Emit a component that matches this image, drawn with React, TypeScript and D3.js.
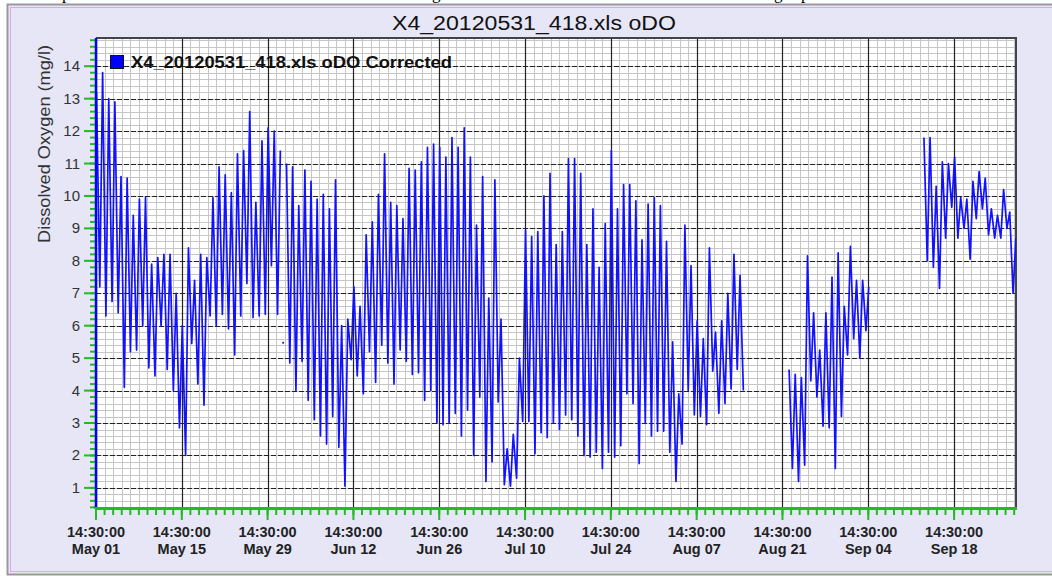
import React, { useRef, useEffect } from "react";
import * as d3 from "d3";

// daily afternoon maxima and early-morning minima of dissolved oxygen (mg/l),
// day 0 = May 01 14:30, null = no data logged
const dayMax: (number | null)[] = [
  13.2, 13.8, 13.0, 12.9, 10.6, 10.55, 9.4, 9.9, 9.95, 7.9,
  8.1, 8.2, 8.2, 7.0, 6.0, 8.4, 7.4, 8.2, 8.1, 9.95,
  10.9, 10.65, 10.1, 11.3, 11.4, 12.6, 9.8, 11.7, 12.1, 12.0,
  11.4, 11.0, 10.9, 9.7, 10.8, 10.45, 9.9, 10.05, 9.6, 10.5,
  6.0, 6.2, 7.2, 6.6, 8.8, 9.2, 10.05, 11.3, 9.8, 9.7,
  9.3, 10.85, 10.8, 11.05, 11.5, 11.6, 11.5, 11.2, 11.8, 11.5,
  12.1, 11.2, 9.1, 10.6, 6.85, 10.5, 6.2, 2.2, 2.65, 5.0,
  8.95, 8.75, 8.9, 10.0, 10.7, 8.5, 8.9, 11.15, 11.15, 10.7,
  8.5, 9.6, 7.8, 9.15, 11.4, 9.6, 10.35, 10.35, 9.85, 8.65,
  9.75, 9.95, 9.7, 8.6, 5.5, 3.9, 9.1, 7.85, 6.15, 5.6,
  8.4, 5.8, 6.15, 7.0, 8.2, 7.55, null, null, null, null,
  null, null, null, 4.65, 4.5, 4.4, 8.15, 6.4, 5.25, 6.4,
  7.5, 8.25, 6.6, 8.45, 7.4, 7.4, 7.2, null, null, null,
  null, null, null, null, null, 11.8, 11.8, 10.3, 11.05, 11.0,
  11.2, 9.95, 9.9, 10.45, 10.75, 10.55, 9.6, 9.4, 10.2, 9.5,
  8.7,
];

const dayMin: (number | null)[] = [
  7.2, 6.3, 6.75, 6.4, 4.1, 5.2, 5.25, 6.0, 4.7, 4.45,
  6.0, 4.65, 4.0, 2.85, 2.0, 5.45, 4.2, 3.55, 6.3, 6.0,
  6.35, 5.9, 5.1, 6.3, 7.3, 6.25, 6.3, 6.35, 7.85, 6.35,
  null, 4.85, 4.0, 4.9, 3.7, 3.1, 2.6, 2.35, 3.2, 2.25,
  1.05, 4.95, 4.45, 3.9, 5.2, 4.25, 5.4, 4.85, 4.2, 5.25,
  4.9, 4.5, 4.55, 3.7, 4.0, 3.0, 2.95, 3.0, 3.3, 2.6,
  3.4, 2.0, 3.8, 1.2, 1.8, 3.65, 1.1, 1.05, 1.3, 3.05,
  3.05, 2.05, 2.7, 2.55, 3.0, 2.8, 3.25, 3.1, 2.6, 2.0,
  1.95, 2.1, 1.6, 2.1, 1.95, 2.3, 3.9, 3.6, 1.75, 3.0,
  2.6, 2.75, 2.75, 2.1, 1.2, 2.35, 4.0, 3.25, 3.2, 2.95,
  4.6, 3.3, 3.6, 4.05, 4.65, 4.0, null, null, null, null,
  null, null, null, 1.6, 1.2, 1.7, 4.3, 3.8, 2.9, 2.85,
  1.6, 3.2, 5.1, 5.6, 5.0, 5.85, null, null, null, null,
  null, null, null, null, null, 8.0, 7.8, 7.15, 8.7, 9.65,
  8.7, 9.0, 8.05, 9.3, 9.6, 8.8, 8.7, 8.7, 9.0, 7.0,
  null,
];

// short isolated reading on May 31 (day offset, value)
const may31Fragment: [number, number][] = [
  [30.45, 5.45],
  [30.6, 5.5],
];

const titleText = "X4_20120531_418.xls oDO";
const legendText = "X4_20120531_418.xls oDO Corrected";
const yLabelText = "Dissolved Oxygen (mg/l)";
const majorTickDays = [0, 14, 28, 42, 56, 70, 84, 98, 112, 126, 140];
const lastDay = 150.1;

const DOChart = () => {
  const svgRef = useRef<SVGSVGElement>(null);

  useEffect(() => {
    const width = 1052;
    const height = 576;
    const plot = { left: 96, right: 1016, top: 38, bottom: 508 };
    const font = "'Liberation Sans', Arial, sans-serif";
    const dayMs = 86400000;
    const start = new Date(2012, 4, 1, 14, 30, 0);
    const toDate = (t: number) => new Date(start.getTime() + t * dayMs);

    const svg = d3.select(svgRef.current);
    svg.selectAll("*").remove();
    svg.attr("width", width).attr("height", height);

    // page + panel
    svg.append("rect").attr("width", width).attr("height", height).attr("fill", "#ffffff");
    const docText = svg.append("g").attr("font-family", "'Liberation Serif', serif").attr("font-size", 17).attr("fill", "#000");
    [[62, "p"], [432, "g"], [774, "g"], [801, "p"]].forEach(([x, s]) => {
      docText.append("text").attr("x", x as number).attr("y", -1).text(s as string);
    });
    svg.append("rect").attr("x", 7.5).attr("y", 4.5).attr("width", width).attr("height", 570)
      .attr("fill", "#e6e6f7").attr("stroke", "#9a9a9a").attr("stroke-width", 2);
    svg.append("rect").attr("x", 10.5).attr("y", 7.5).attr("width", width).attr("height", 564)
      .attr("fill", "none").attr("stroke", "#e7a2ec").attr("stroke-width", 1);

    // scales
    const x = d3.scaleTime().domain([start, toDate(lastDay)]).range([plot.left, plot.right]);
    const y = d3.scaleLinear().domain([0.38, 14.87]).range([plot.bottom, plot.top]);

    const minorDays = d3.range(0, 108).map((k) => k * 1.4).filter((t) => t <= lastDay);
    const minorVals = d3.range(2, 75).map((k) => k / 5);
    const majorVals = d3.range(1, 15);

    // plot area and grid
    svg.append("rect").attr("x", plot.left).attr("y", plot.top)
      .attr("width", plot.right - plot.left).attr("height", plot.bottom - plot.top).attr("fill", "#fff");

    const grid = svg.append("g");
    grid.selectAll(".vminor").data(minorDays).enter().append("line")
      .attr("x1", (d) => Math.round(x(toDate(d))) + 0.5).attr("x2", (d) => Math.round(x(toDate(d))) + 0.5)
      .attr("y1", plot.top).attr("y2", plot.bottom).attr("stroke", "#c6c6c6").attr("stroke-width", 1);
    grid.selectAll(".hminor").data(minorVals).enter().append("line")
      .attr("x1", plot.left).attr("x2", plot.right)
      .attr("y1", (d) => Math.round(y(d)) + 0.5).attr("y2", (d) => Math.round(y(d)) + 0.5)
      .attr("stroke", "#c6c6c6").attr("stroke-width", 1);
    grid.selectAll(".hmajor").data(majorVals).enter().append("line")
      .attr("x1", plot.left).attr("x2", plot.right)
      .attr("y1", (d) => Math.round(y(d)) + 0.5).attr("y2", (d) => Math.round(y(d)) + 0.5)
      .attr("stroke", "#222").attr("stroke-width", 1.2).attr("stroke-dasharray", "5,2");
    grid.selectAll(".vmajor").data(majorTickDays).enter().append("line")
      .attr("x1", (d) => Math.round(x(toDate(d))) + 0.5).attr("x2", (d) => Math.round(x(toDate(d))) + 0.5)
      .attr("y1", plot.top).attr("y2", plot.bottom).attr("stroke", "#222").attr("stroke-width", 1.2);

    // border (top / right)
    svg.append("path")
      .attr("d", `M${plot.left},${plot.top}H${plot.right}V${plot.bottom}`)
      .attr("fill", "none").attr("stroke", "#444").attr("stroke-width", 2);

    // series points: afternoon max then morning min each day
    const points: [number, number | null][] = [];
    dayMax.forEach((v, i) => {
      points.push([i + 0.08, v]);
      points.push([i + 0.62, dayMin[i]]);
      if (i === 30) {
        may31Fragment.forEach((p) => points.push(p));
        points.push([30.9, null]);
      }
    });

    svg.append("clipPath").attr("id", "plotClip").append("rect")
      .attr("x", plot.left).attr("y", plot.top)
      .attr("width", plot.right - plot.left).attr("height", plot.bottom - plot.top);

    const line = d3.line<[number, number | null]>()
      .defined((d) => d[1] != null)
      .x((d) => x(toDate(d[0])))
      .y((d) => y(d[1] as number));

    svg.append("path").datum(points).attr("clip-path", "url(#plotClip)")
      .attr("d", line).attr("fill", "none").attr("stroke", "#1212ff")
      .attr("stroke-width", 1.7).attr("stroke-linejoin", "round");

    // y axis
    const yAxis = svg.append("g");
    yAxis.selectAll(".yminor").data(minorVals).enter().append("line")
      .attr("x1", plot.left - 6).attr("x2", plot.left)
      .attr("y1", (d) => y(d)).attr("y2", (d) => y(d)).attr("stroke", "#22bb22").attr("stroke-width", 2);
    yAxis.selectAll(".ymajor").data(majorVals).enter().append("line")
      .attr("x1", plot.left - 12).attr("x2", plot.left)
      .attr("y1", (d) => y(d)).attr("y2", (d) => y(d)).attr("stroke", "#22bb22").attr("stroke-width", 2);
    yAxis.selectAll(".ylab").data(majorVals).enter().append("text")
      .attr("x", 80).attr("y", (d) => y(d) + 5).attr("text-anchor", "end")
      .attr("font-family", font).attr("font-size", 15).attr("fill", "#333").text((d) => d);
    yAxis.append("line").attr("x1", plot.left).attr("x2", plot.left)
      .attr("y1", plot.top).attr("y2", plot.bottom + 1).attr("stroke", "#0000ff").attr("stroke-width", 2.5);

    // x axis
    const xAxis = svg.append("g");
    xAxis.selectAll(".xminor").data(minorDays).enter().append("line")
      .attr("x1", (d) => x(toDate(d))).attr("x2", (d) => x(toDate(d)))
      .attr("y1", plot.bottom).attr("y2", plot.bottom + 7).attr("stroke", "#22bb22").attr("stroke-width", 2);
    xAxis.selectAll(".xmajor").data(majorTickDays).enter().append("line")
      .attr("x1", (d) => x(toDate(d))).attr("x2", (d) => x(toDate(d)))
      .attr("y1", plot.bottom).attr("y2", plot.bottom + 12).attr("stroke", "#22bb22").attr("stroke-width", 2);
    xAxis.append("line").attr("x1", plot.left - 1).attr("x2", plot.right + 1)
      .attr("y1", plot.bottom + 0.5).attr("y2", plot.bottom + 0.5).attr("stroke", "#22bb22").attr("stroke-width", 3);

    const fmtTime = d3.timeFormat("%H:%M:%S");
    const fmtDay = d3.timeFormat("%b %d");
    const xl = xAxis.selectAll(".xlab").data(majorTickDays).enter().append("text")
      .attr("text-anchor", "middle").attr("font-family", font).attr("font-size", 14.5)
      .attr("font-weight", "bold").attr("fill", "#222");
    xl.append("tspan").attr("x", (d) => x(toDate(d))).attr("y", 537).text((d) => fmtTime(toDate(d)));
    xl.append("tspan").attr("x", (d) => x(toDate(d))).attr("y", 554).text((d) => fmtDay(toDate(d)));

    // title
    svg.append("text").attr("x", 534).attr("y", 29.5).attr("text-anchor", "middle")
      .attr("font-family", font).attr("font-size", 20).attr("fill", "#111")
      .attr("textLength", 284).attr("lengthAdjust", "spacingAndGlyphs").text(titleText);

    // y label
    svg.append("text").attr("transform", "translate(50,144) rotate(-90)").attr("text-anchor", "middle")
      .attr("font-family", font).attr("font-size", 16).attr("fill", "#333")
      .attr("textLength", 198).attr("lengthAdjust", "spacingAndGlyphs").text(yLabelText);

    // legend
    svg.append("rect").attr("x", 110.5).attr("y", 55.5).attr("width", 13).attr("height", 13)
      .attr("fill", "#0000ff").attr("stroke", "#111").attr("stroke-width", 1);
    svg.append("text").attr("x", 131).attr("y", 68).attr("font-family", font)
      .attr("font-size", 17).attr("font-weight", "bold").attr("fill", "#111")
      .attr("textLength", 321).attr("lengthAdjust", "spacingAndGlyphs").text(legendText);
  }, []);

  return <svg ref={svgRef} style={{ position: "absolute", left: 0, top: 0 }}></svg>;
};

export default function App() {
  return <DOChart />;
}
